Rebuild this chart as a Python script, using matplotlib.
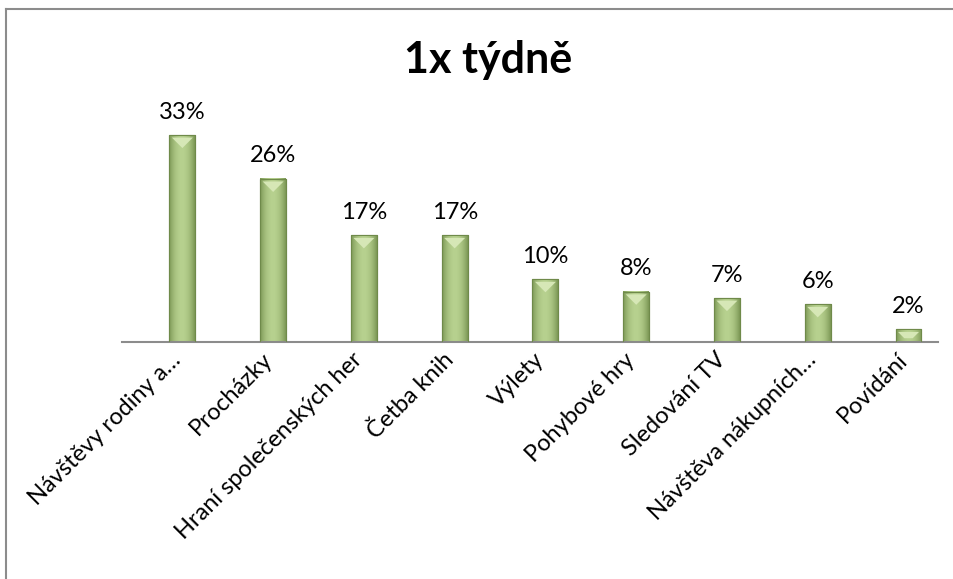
import numpy as np
import matplotlib
matplotlib.use('Agg')
import matplotlib.pyplot as plt
import matplotlib.transforms as mtransforms
from matplotlib.patches import Polygon
from matplotlib.lines import Line2D
from matplotlib.colors import LinearSegmentedColormap

# data
categories = ['Návštěvy rodiny a…', 'Procházky', 'Hraní společenských her', 'Četba knih',
              'Výlety', 'Pohybové hry', 'Sledování TV', 'Návštěva nákupních…', 'Povídání']
values = [33, 26, 17, 17, 10, 8, 7, 6, 2]
value_labels = ['33%', '26%', '17%', '17%', '10%', '8%', '7%', '6%', '2%']
title = '1x týdně'

plt.rcParams['font.family'] = ['Lato', 'DejaVu Sans']

W, H, DPI = 954, 579, 100
fig = plt.figure(figsize=(W / DPI, H / DPI), dpi=DPI)

# axes placement (pixels from left / top)
ax_left, ax_right = 122, 938
ax_base, ax_top = 342, 110
ax = fig.add_axes([ax_left / W, (H - ax_base) / H, (ax_right - ax_left) / W, (ax_base - ax_top) / H])

x = np.arange(len(categories))
xmin, xmax = -0.665, 8.325
px_per_pct = 6.27
ymax = (ax_base - ax_top) / px_per_pct
ax.set_xlim(xmin, xmax)
ax.set_ylim(0, ymax)

bw = 0.286
bars = ax.bar(x, values, width=bw, color='#a9c47f', edgecolor='#6f8a4a', linewidth=0.8, zorder=2)

ux = (ax_right - ax_left) / (xmax - xmin)  # px per x unit
uy = px_per_pct

# gradient + bevel on each bar
grad = np.linspace(-1, 1, 60)
shade = 1 - np.abs(grad) ** 2
cmap = LinearSegmentedColormap.from_list('g', ['#7d9856', '#b7d18f'])
for b in bars:
    bx, by, bwid, bh = b.get_x(), b.get_y(), b.get_width(), b.get_height()
    ax.imshow(shade[np.newaxis, :], extent=[bx, bx + bwid, by, by + bh], aspect='auto',
              cmap=cmap, vmin=0, vmax=1, zorder=2.5, interpolation='bilinear')
    top = by + bh
    e = 2.5  # bevel edge px
    wpx = bwid * ux
    hpx = bh * uy
    dpx = min(wpx / 2 - e, hpx * 0.5, 11)
    dx = min(dpx, wpx / 2 - e)
    pts = [(bx + e / ux, top - e / uy), (bx + bwid - e / ux, top - e / uy),
           (bx + bwid - (e + dx) / ux, top - (e + dpx) / uy), (bx + (e + dx) / ux, top - (e + dpx) / uy)]
    ax.add_patch(Polygon(pts, closed=True, facecolor='#d6e7b6', edgecolor='none', zorder=3))
    ax.add_patch(plt.Rectangle((bx, by), bwid, bh, facecolor='none', edgecolor='#6f8a4a', linewidth=0.8, zorder=3.5))

for xi, v, lab in zip(x, values, value_labels):
    ax.annotate(lab, (xi, v), xytext=(0, 9), textcoords='offset points', ha='center', va='bottom',
                fontsize=17, color='black')

for s in ['top', 'right', 'left']:
    ax.spines[s].set_visible(False)
ax.spines['bottom'].set_color('#8c8c8c')
ax.spines['bottom'].set_linewidth(1.5)
ax.set_yticks([])
ax.set_xticks(x)
ax.set_xticklabels(categories, rotation=45, ha='right', va='top', rotation_mode='anchor', fontsize=17)
ax.tick_params(axis='x', length=0, pad=5)
shift = mtransforms.ScaledTranslation(-12 / DPI, 0, fig.dpi_scale_trans)
for t in ax.get_xticklabels():
    t.set_transform(t.get_transform() + shift)

fig.text(488 / W, 1 - 60 / H, title, ha='center', va='center', fontsize=31, fontweight='bold')

# chart frame (left and top edges visible)
fig.add_artist(Line2D([6 / W, 6 / W], [0, 1 - 9 / H], color='#8c8c8c', linewidth=1.5))
fig.add_artist(Line2D([6 / W, 1], [1 - 9 / H, 1 - 9 / H], color='#8c8c8c', linewidth=1.5))

fig.savefig('out.png', dpi=DPI)
